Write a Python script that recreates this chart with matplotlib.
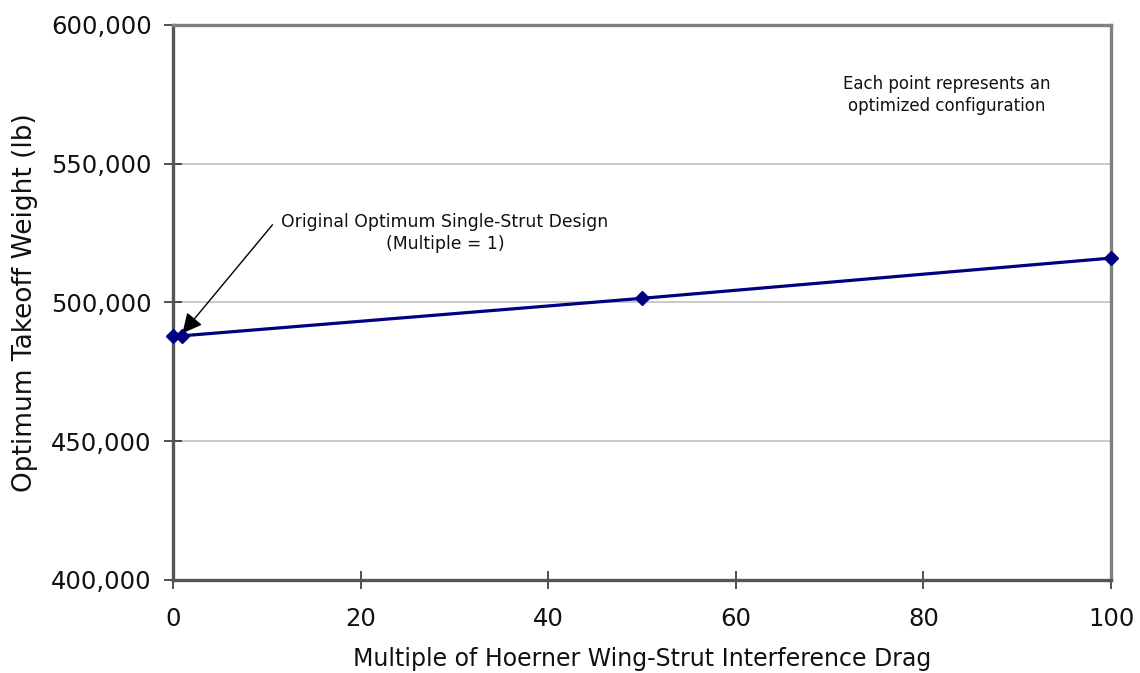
import matplotlib
matplotlib.use("Agg")
import matplotlib.pyplot as plt
from matplotlib.ticker import FuncFormatter

plt.rcParams['font.family'] = ['DejaVu Sans']

# Optimum takeoff weight vs. interference drag multiple
drag_multiple = [0, 1, 50, 100]
takeoff_weight = [488000, 488000, 501500, 516000]

x_ticks = [0, 20, 40, 60, 80, 100]
y_ticks = [400000, 450000, 500000, 550000, 600000]

fig = plt.figure(figsize=(11.4, 6.73), dpi=100)
ax = fig.add_axes([0.1518, 0.1382, 0.9746 - 0.1518, 0.9629 - 0.1382])

ax.plot(drag_multiple, takeoff_weight, color='#000080', linewidth=2.3,
        marker='D', markersize=7, markerfacecolor='#000080',
        markeredgecolor='#000080', zorder=5, clip_on=False)

ax.set_xlim(0, 100)
ax.set_ylim(400000, 600000)
ax.set_xticks(x_ticks)
ax.set_yticks(y_ticks)
ax.yaxis.set_major_formatter(FuncFormatter(lambda v, p: f"{int(v):,}"))

ax.grid(axis='y', color='#c0c0c0', linewidth=1.2)
ax.set_axisbelow(True)

for side in ('top', 'right'):
    ax.spines[side].set_color('#808080')
    ax.spines[side].set_linewidth(2.4)
for side in ('left', 'bottom'):
    ax.spines[side].set_color('#555555')
    ax.spines[side].set_linewidth(2.4)

ax.tick_params(axis='both', direction='inout', length=13, width=1.2,
               color='#333333', labelsize=17.5, labelcolor='#111111')
ax.tick_params(axis='x', pad=13)
ax.tick_params(axis='y', pad=9)

ax.set_xlabel('Multiple of Hoerner Wing-Strut Interference Drag',
              fontsize=17, color='#111111')
ax.xaxis.label.set_verticalalignment('baseline')
ax.xaxis.set_label_coords(0.5, -0.155)

ax.set_ylabel('Optimum Takeoff Weight (lb)', fontsize=19, color='#111111')
ax.yaxis.label.set_verticalalignment('center')
ax.yaxis.set_label_coords(-0.158, 0.5)

# Callout for the baseline single-strut design
ax.text(29.0, 525000, 'Original Optimum Single-Strut Design\n(Multiple = 1)',
        ha='center', va='center', fontsize=12.4, color='#111111',
        linespacing=1.3)
ax.annotate('', xy=(drag_multiple[1], takeoff_weight[1] + 900),
            xytext=(10.6, 528000),
            arrowprops=dict(arrowstyle='-|>', color='black', lw=1.0,
                            mutation_scale=30, shrinkA=0, shrinkB=0),
            annotation_clip=False)

ax.text(82.5, 574800, 'Each point represents an\noptimized configuration',
        ha='center', va='center', fontsize=12, color='#111111',
        linespacing=1.3)

fig.savefig('out.png', dpi=100)
